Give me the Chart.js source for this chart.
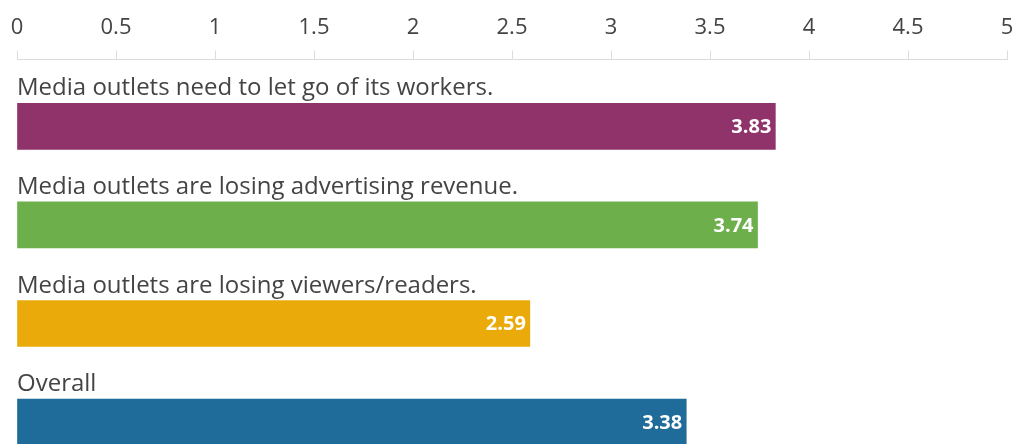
<!DOCTYPE html>
<html>
<head>
<meta charset="utf-8">
<script src="https://cdn.jsdelivr.net/npm/chart.js@4"></script>
<style>
  html, body { margin: 0; padding: 0; background: #fff; overflow: hidden; }
  canvas { display: block; }
</style>
</head>
<body>
<canvas id="chart" width="1018" height="444"></canvas>
<script>
const categories = [
  'Media outlets need to let go of its workers.',
  'Media outlets are losing advertising revenue.',
  'Media outlets are losing viewers/readers.',
  'Overall'
];
const values = [3.83, 3.74, 2.59, 3.38];
const barColors = ['#8f336a', '#6caf4b', '#eaab0a', '#1f6b99'];
const xTicks = [0, 0.5, 1, 1.5, 2, 2.5, 3, 3.5, 4, 4.5, 5];

const FONT = '"Open Sans", "Noto Sans", sans-serif';

// category text above each bar, value inside bar end
const labelPlugin = {
  id: 'barLabels',
  afterDatasetsDraw(chart) {
    const ctx = chart.ctx;
    const meta = chart.getDatasetMeta(0);
    ctx.save();
    meta.data.forEach((bar, i) => {
      const top = bar.y - bar.height / 2;
      ctx.font = '24px ' + FONT;
      ctx.fillStyle = '#444';
      ctx.textAlign = 'left';
      ctx.textBaseline = 'alphabetic';
      ctx.fillText(categories[i], chart.chartArea.left, top - 8);

      ctx.font = 'bold 20px ' + FONT;
      ctx.fillStyle = '#fff';
      ctx.textAlign = 'right';
      ctx.textBaseline = 'middle';
      ctx.fillText(values[i].toFixed(2), bar.x - 4, bar.y + 1);
    });
    ctx.restore();
  }
};

new Chart(document.getElementById('chart').getContext('2d'), {
  type: 'bar',
  data: {
    datasets: [{
      data: values.map((v, i) => ({ x: v, y: i })),
      backgroundColor: barColors,
      barThickness: 46,
      borderWidth: 0
    }]
  },
  options: {
    indexAxis: 'y',
    responsive: false,
    animation: false,
    layout: { padding: { left: 17, right: 11, top: 6, bottom: 0 } },
    plugins: {
      legend: { display: false },
      tooltip: { enabled: false }
    },
    scales: {
      x: {
        position: 'top',
        min: 0,
        max: 5,
        afterBuildTicks: (axis) => { axis.ticks = xTicks.map(v => ({ value: v })); },
        afterFit: (axis) => { axis.paddingLeft = 0; axis.paddingRight = 0; },
        grid: {
          drawOnChartArea: false,
          drawTicks: true,
          tickLength: 9,
          color: '#dcdcdc'
        },
        border: { color: '#dcdcdc' },
        ticks: {
          font: { family: FONT, size: 22 },
          color: '#444',
          padding: 9,
          maxRotation: 0,
          callback: (v) => String(v)
        }
      },
      y: {
        type: 'linear',
        reverse: true,
        offset: false,
        min: -0.679,
        max: 3.222,
        display: false
      }
    }
  },
  plugins: [labelPlugin]
});
</script>
</body>
</html>
